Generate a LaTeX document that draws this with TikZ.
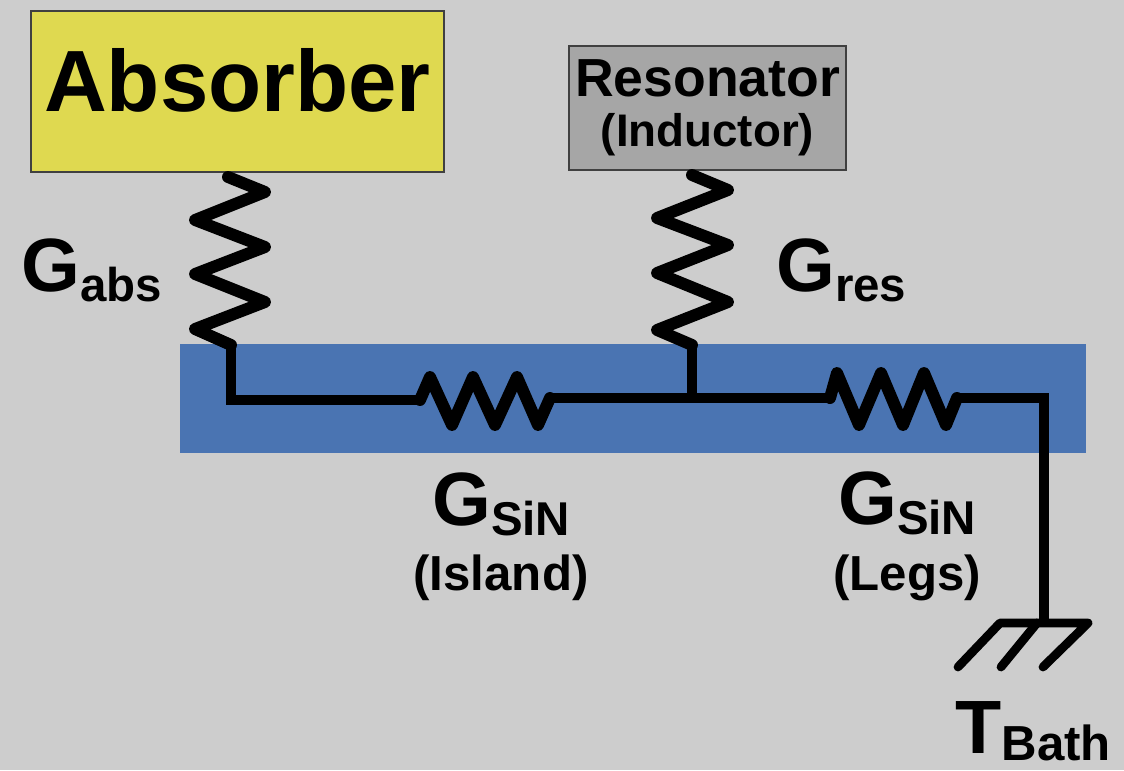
\documentclass[tikz,border=0pt]{standalone}
\usepackage{fontspec}
\setmainfont{Liberation Sans}
\definecolor{slidegray}{HTML}{CDCDCD}
\definecolor{absyellow}{HTML}{DFD950}
\definecolor{resgray}{HTML}{A6A6A6}
\definecolor{stripblue}{HTML}{4A74B2}
\newcommand{\glabel}[2]{{\fontsize{43}{43}\selectfont #1}\raisebox{-6pt}{\fontsize{27}{27}\selectfont #2}}

\begin{document}
\begin{tikzpicture}[
        x=0.02cm,
        y=-0.02cm,
        box/.style={
            rectangle,
            draw=black!75,
            line width=0.7pt,
            align=center,
            inner sep=0pt,
            font=\bfseries
        },
        label/.style={
            anchor=base west,
            inner sep=0pt,
            font=\bfseries
        },
        note/.style={
            anchor=base,
            inner sep=0pt,
            font=\bfseries\fontsize{28}{28}\selectfont
        },
        wire/.style={line width=5.7pt, line join=miter},
        zigzag/.style={line width=6.8pt, line join=round, line cap=round},
        hatch/.style={line width=5pt, line cap=round, line join=round}
    ]

        \useasboundingbox (0,0) rectangle (1124,770);
        \fill[slidegray] (0,0) rectangle (1124,770);

        % Blocks
        \node[box, fill=absyellow, minimum width=8.26cm, minimum height=3.22cm] (absorber) at (237.5,91.5) {\smash{\raisebox{-11.6pt}{\fontsize{49.5}{49.5}\selectfont Absorber}}};
        \node[box, fill=resgray, minimum width=5.54cm, minimum height=2.48cm] (resonator) at (707.5,108) {\fontsize{30.5}{32}\selectfont Resonator\\[8pt]\fontsize{26}{26}\selectfont (Inductor)};
        \node[fill=stripblue, inner sep=0pt, minimum width=18.12cm, minimum height=2.18cm] (island) at (633,398.5) {};

        % Labels
        \node[label] (gabs) at (21,291) {\glabel{G}{abs}};
        \node[label] (gres) at (776,291) {\glabel{G}{res}};
        \node[label] (gisland) at (432,525) {\glabel{G}{SiN}};
        \node[note] (island text) at (501,590) {(Island)};
        \node[label] (glegs) at (838,524) {\glabel{G}{SiN}};
        \node[note] (legs text) at (907,590) {(Legs)};
        \node[label] (tbath) at (955,753) {{\fontsize{43}{43}\selectfont T}\raisebox{-4.5pt}{\fontsize{28}{28}\selectfont Bath}};

        % Wire ends
        \coordinate (abs end) at (228,177);
        \coordinate (abs foot) at (231,345);
        \coordinate (abs corner) at (231,400);
        \coordinate (left in) at (420,400);
        \coordinate (left out) at (550,398);
        \coordinate (tee) at (692,398);
        \coordinate (res end) at (692,175);
        \coordinate (res foot) at (692,345);
        \coordinate (right in) at (830,398);
        \coordinate (right out) at (957,398);
        \coordinate (bath corner) at (1044,398);
        \coordinate (bath) at (1044,622);

        % Thermal links
        \draw[zigzag] (abs end) -- (265,192) -- (195,220) -- (265,247) -- (195,274) -- (265,302) -- (195,329) -- (abs foot);
        \draw[zigzag] (res end) -- (728,190) -- (657,218) -- (728,245) -- (657,273) -- (728,302) -- (657,330) -- (res foot);
        \draw[zigzag] (left in) -- (430,377) -- (452,425) -- (473,377) -- (495,425) -- (517,377) -- (538,425) -- (left out);
        \draw[zigzag] (right in) -- (837,373) -- (859,425) -- (881,373) -- (903,425) -- (924,373) -- (946,425) -- (right out);

        % Straight wires
        \draw[wire] (abs foot) -- (abs corner) -- (left in);
        \draw[wire] (left out) -- (right in);
        \draw[wire] (res foot) -- (tee);
        \draw[wire] (right out) -- (bath corner) -- (bath);

        % Ground
        \draw[hatch] (958,667) -- (1000,623) -- (1088,623) -- (1043,667);
        \draw[hatch] (1001,667) -- (1037,623);
    \end{tikzpicture}
\end{document}
